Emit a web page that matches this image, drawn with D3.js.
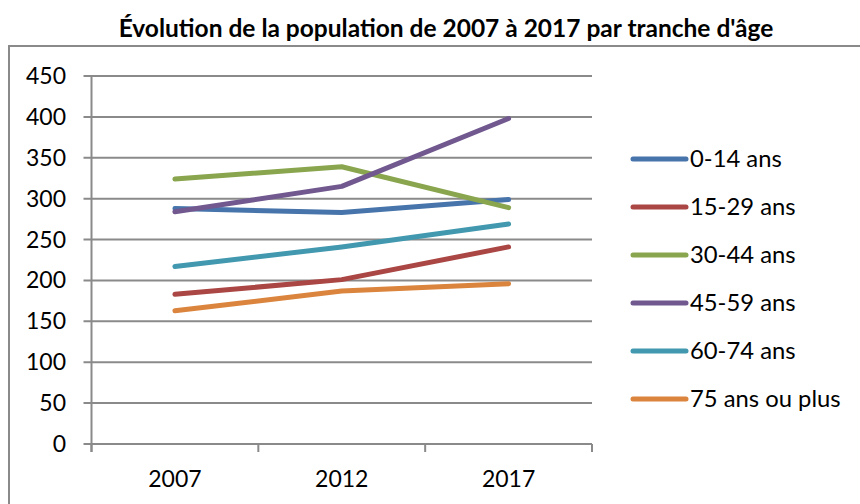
<!DOCTYPE html>
<html>
<head>
<meta charset="utf-8">
<script src="https://cdn.jsdelivr.net/npm/d3@7"></script>
<style>
  body { margin: 0; background: #fff; }
  text { font-family: Lato, "Open Sans", sans-serif; fill: #000; }
</style>
</head>
<body>
<script>
var years = ["2007", "2012", "2017"];
var seriesNames = ["0-14 ans", "15-29 ans", "30-44 ans", "45-59 ans", "60-74 ans", "75 ans ou plus"];
var v0014 = [288, 283, 299];
var v1529 = [183, 201, 241];
var v3044 = [324, 339, 289];
var v4559 = [284, 315, 398];
var v6074 = [217, 241, 269];
var v75 = [163, 187, 196];
var yTicks = [0, 50, 100, 150, 200, 250, 300, 350, 400, 450];
var colors = ["#4674ab", "#aa4643", "#89a54e", "#71588f", "#4198af", "#db843d"];

var series = [v0014, v1529, v3044, v4559, v6074, v75];

var w = 860, h = 504;
var svg = d3.select("body")
            .append("svg")
            .attr("width", w)
            .attr("height", h);

// chart border (runs off right/bottom edges)
svg.append("rect")
    .attr("x", 9).attr("y", 46)
    .attr("width", 900).attr("height", 500)
    .attr("fill", "none")
    .attr("stroke", "#8a8a8a")
    .attr("stroke-width", 2);

svg.append("text")
    .text("Évolution de la population de 2007 à 2017 par tranche d'âge")
    .attr("x", 446)
    .attr("y", 37)
    .attr("text-anchor", "middle")
    .attr("font-weight", "bold")
    .attr("font-size", "24.5px");

var pLeft = 91.5, pRight = 592, pTop = 76, pBottom = 444;

var x = d3.scaleBand().domain(years).range([pLeft, pRight]);
var y = d3.scaleLinear().domain([0, 450]).range([pBottom, pTop]);

// gridlines
svg.selectAll("line.grid")
    .data(yTicks)
    .enter()
    .append("line")
    .attr("class", "grid")
    .attr("x1", pLeft - 8)
    .attr("x2", pRight)
    .attr("y1", function(d) { return y(d); })
    .attr("y2", function(d) { return y(d); })
    .attr("stroke", "#8a8a8a")
    .attr("stroke-width", 2);

// y axis line
svg.append("line")
    .attr("x1", pLeft).attr("x2", pLeft)
    .attr("y1", pTop).attr("y2", pBottom + 8)
    .attr("stroke", "#8a8a8a")
    .attr("stroke-width", 2);

// x ticks at band edges
var edges = years.map(function(d) { return x(d); }).concat([pRight]);
svg.selectAll("line.xtick")
    .data(edges)
    .enter()
    .append("line")
    .attr("class", "xtick")
    .attr("x1", function(d) { return d; })
    .attr("x2", function(d) { return d; })
    .attr("y1", pBottom)
    .attr("y2", pBottom + 8)
    .attr("stroke", "#8a8a8a")
    .attr("stroke-width", 2);

svg.selectAll("text.ylab")
    .data(yTicks)
    .enter()
    .append("text")
    .attr("class", "ylab")
    .text(function(d) { return d; })
    .attr("x", 66)
    .attr("y", function(d) { return y(d) + 8; })
    .attr("text-anchor", "end")
    .attr("font-size", "23px");

svg.selectAll("text.xlab")
    .data(years)
    .enter()
    .append("text")
    .attr("class", "xlab")
    .text(function(d) { return d; })
    .attr("x", function(d) { return x(d) + x.bandwidth() / 2; })
    .attr("y", 487)
    .attr("text-anchor", "middle")
    .attr("font-size", "23px");

var line = d3.line()
    .x(function(d, i) { return x(years[i]) + x.bandwidth() / 2; })
    .y(function(d) { return y(d); });

svg.selectAll("path.series")
    .data(series)
    .enter()
    .append("path")
    .attr("class", "series")
    .attr("d", line)
    .attr("fill", "none")
    .attr("stroke", function(d, i) { return colors[i]; })
    .attr("stroke-width", 5)
    .attr("stroke-linecap", "round")
    .attr("stroke-linejoin", "round");

// legend
var legend = svg.selectAll("g.legend")
    .data(seriesNames)
    .enter()
    .append("g")
    .attr("class", "legend")
    .attr("transform", function(d, i) { return "translate(0," + (159 + i * 48) + ")"; });

legend.append("line")
    .attr("x1", 633).attr("x2", 686)
    .attr("y1", 0).attr("y2", 0)
    .attr("stroke", function(d, i) { return colors[i]; })
    .attr("stroke-width", 5)
    .attr("stroke-linecap", "round");

legend.append("text")
    .text(function(d) { return d; })
    .attr("x", 690)
    .attr("y", 8)
    .attr("font-size", "23.8px");
</script>
</body>
</html>
